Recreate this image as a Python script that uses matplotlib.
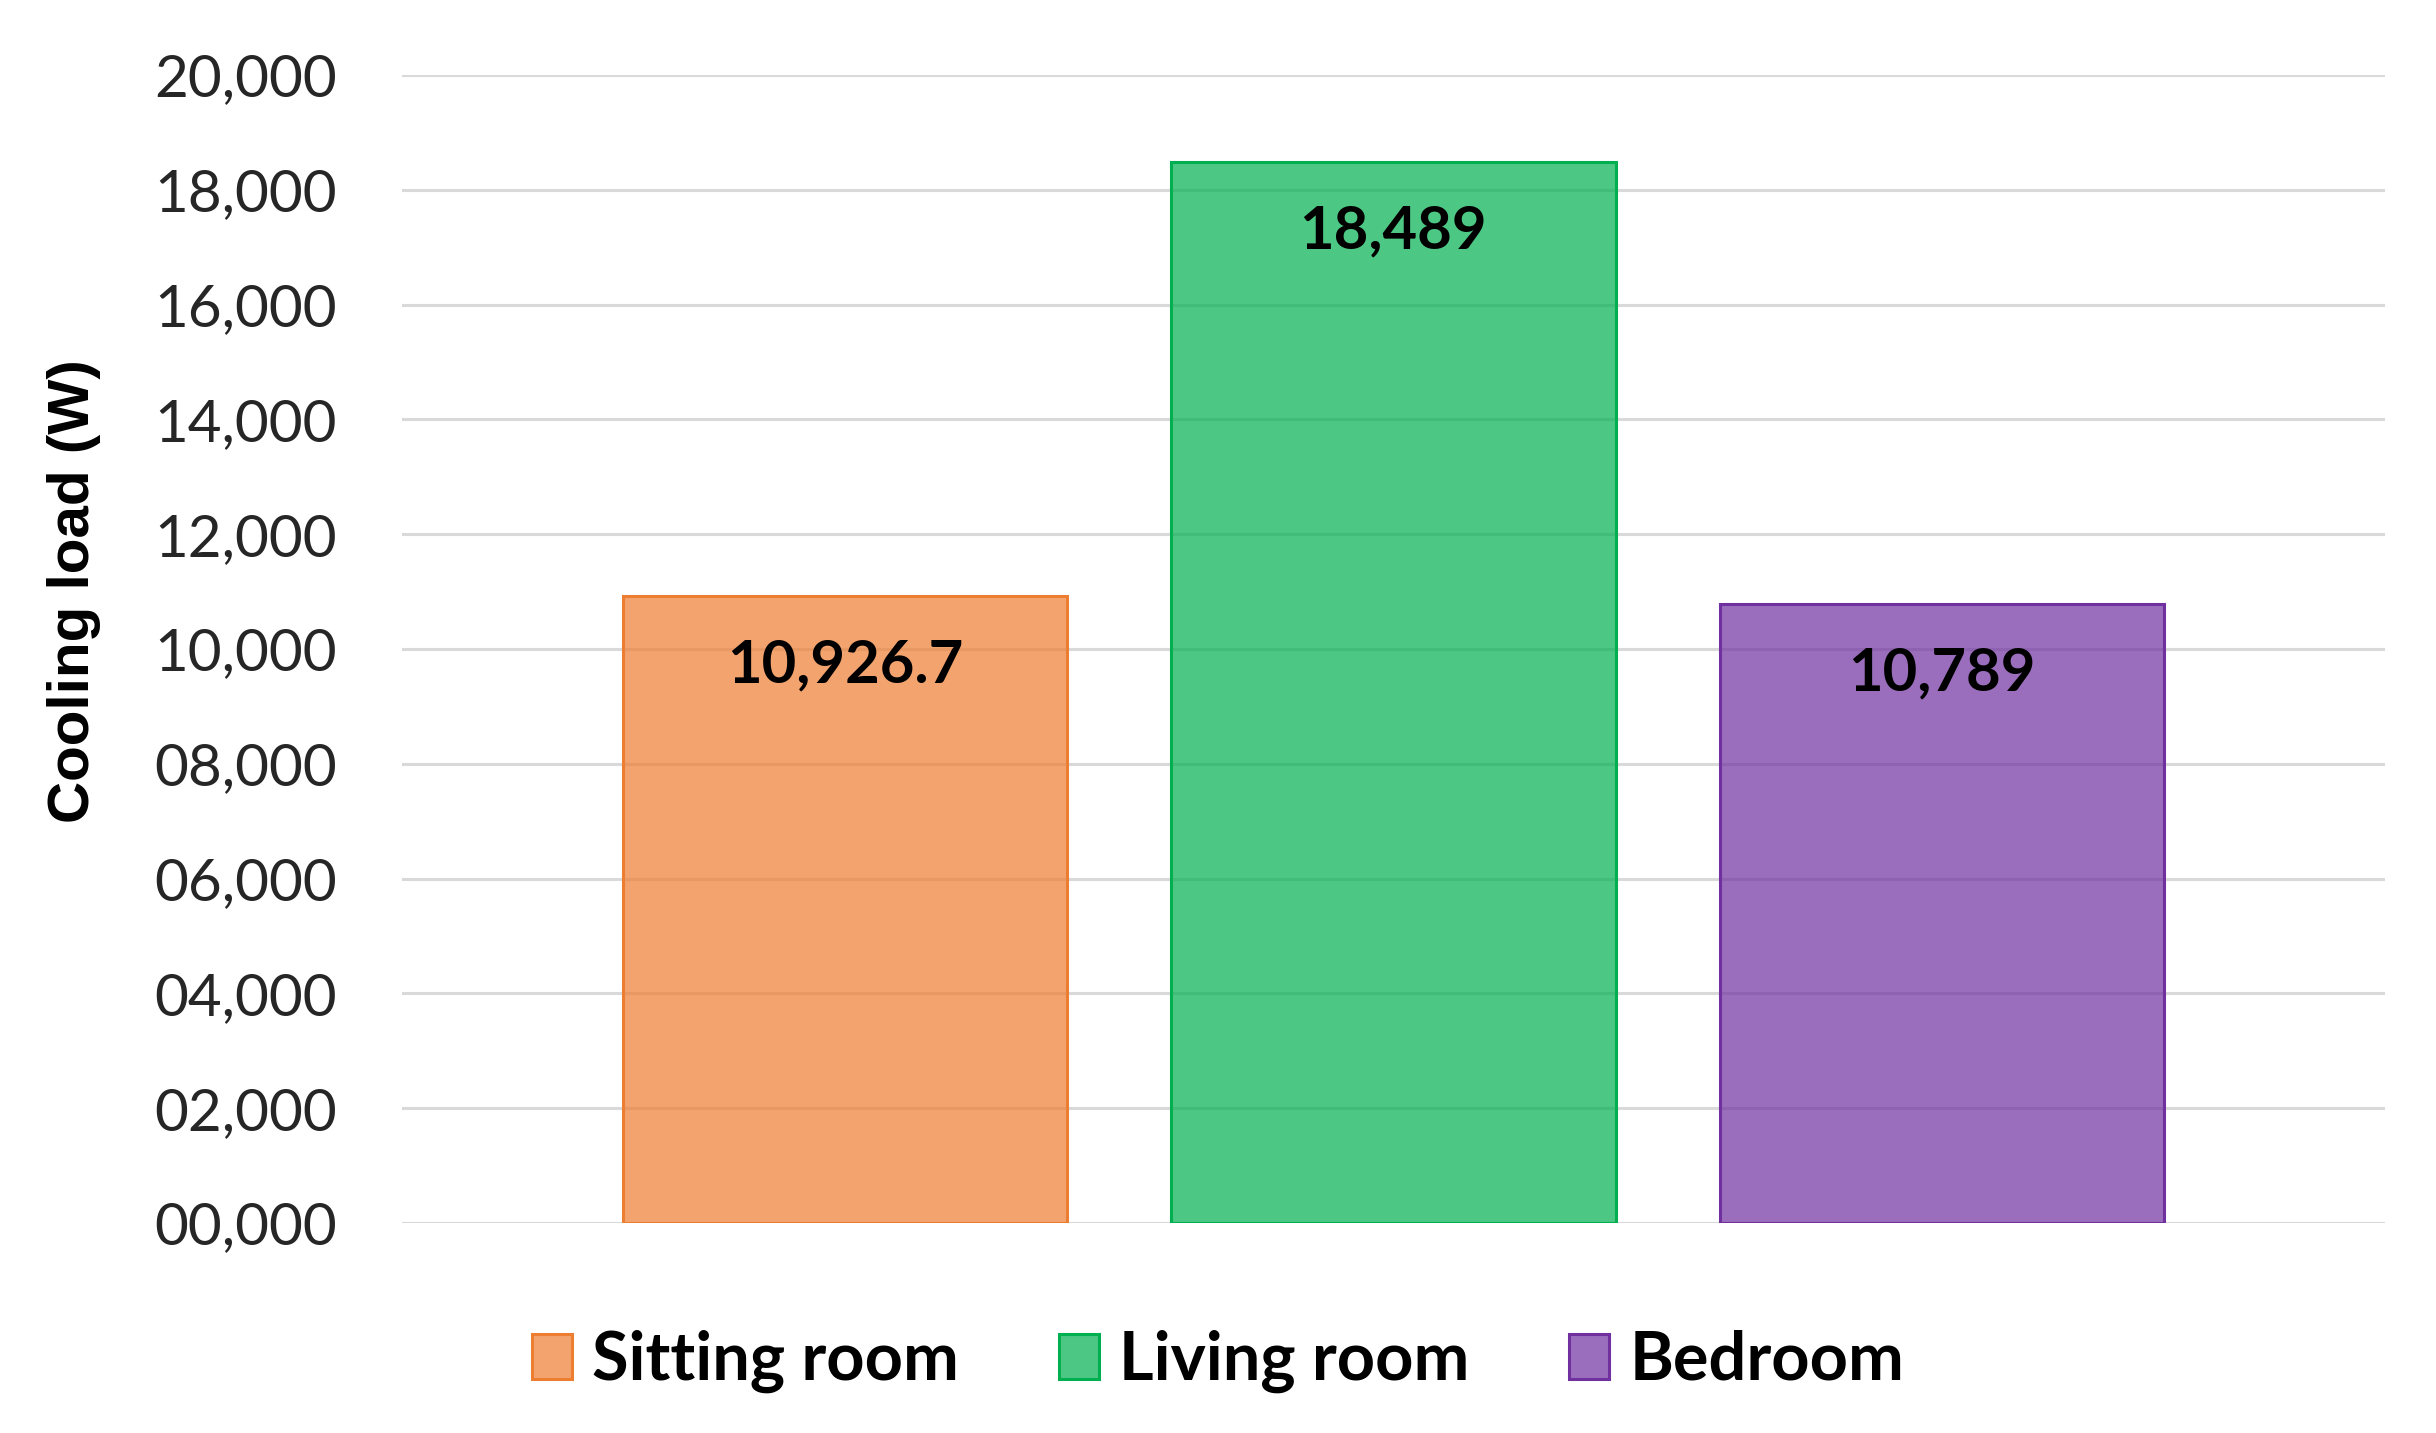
import matplotlib
matplotlib.use("Agg")
import matplotlib.pyplot as plt
from matplotlib.colors import to_rgba
from matplotlib.patches import Patch
from matplotlib.ticker import FuncFormatter

# data
rooms = ["Sitting room", "Living room", "Bedroom"]
loads = [10926.7, 18489, 10789]
load_labels = ["10,926.7", "18,489", "10,789"]
colors = ["#ED7D31", "#00B050", "#7030A0"]
yticks = [0, 2000, 4000, 6000, 8000, 10000, 12000, 14000, 16000, 18000, 20000]

plt.rcParams["font.family"] = ["Lato", "DejaVu Sans"]

fig = plt.figure(figsize=(24.36, 14.33), dpi=100)
ax = fig.add_axes([0.165, 0.1465, 0.814, 0.8012])

x = list(range(len(rooms)))
faces = [to_rgba(c, 0.7) for c in colors]
ax.bar(x, loads, width=0.81, color=faces, edgecolor=colors, linewidth=2.2, zorder=3)

# value labels sit inside the bar, just under the top
for xi, v, lab in zip(x, loads, load_labels):
    ax.annotate(lab, (xi, v), xytext=(0, -50), textcoords="offset points",
                ha="center", va="center", fontsize=43, fontweight="bold", color="black", zorder=4)

ax.set_xlim(-0.8077, 2.8077)
ax.set_ylim(0, 20000)
ax.set_yticks(yticks)
ax.yaxis.set_major_formatter(FuncFormatter(lambda v, p: f"{int(v) // 1000:02d},000"))
ax.tick_params(axis="y", length=0, pad=47, labelsize=42, labelcolor="#262626")
ax.set_xticks([])
ax.grid(axis="y", color="#D9D9D9", linewidth=2.2, zorder=0)
ax.set_axisbelow(True)
for s in ax.spines.values():
    s.set_visible(False)

ax.set_ylabel("Cooling load (W)", fontsize=42, fontweight="bold", family="Liberation Sans")
ax.yaxis.set_label_coords(-0.152, 0.55)

handles = [Patch(facecolor=f, edgecolor=c, linewidth=2.2) for f, c in zip(faces, colors)]
fig.legend(handles, rooms, loc="center", bbox_to_anchor=(0.5, 0.05), ncol=3, frameon=False,
           prop={"size": 48, "weight": "bold"}, handlelength=0.6, handleheight=0.66,
           handletextpad=0.3, columnspacing=1.5)

fig.savefig("out.png", dpi=100)
